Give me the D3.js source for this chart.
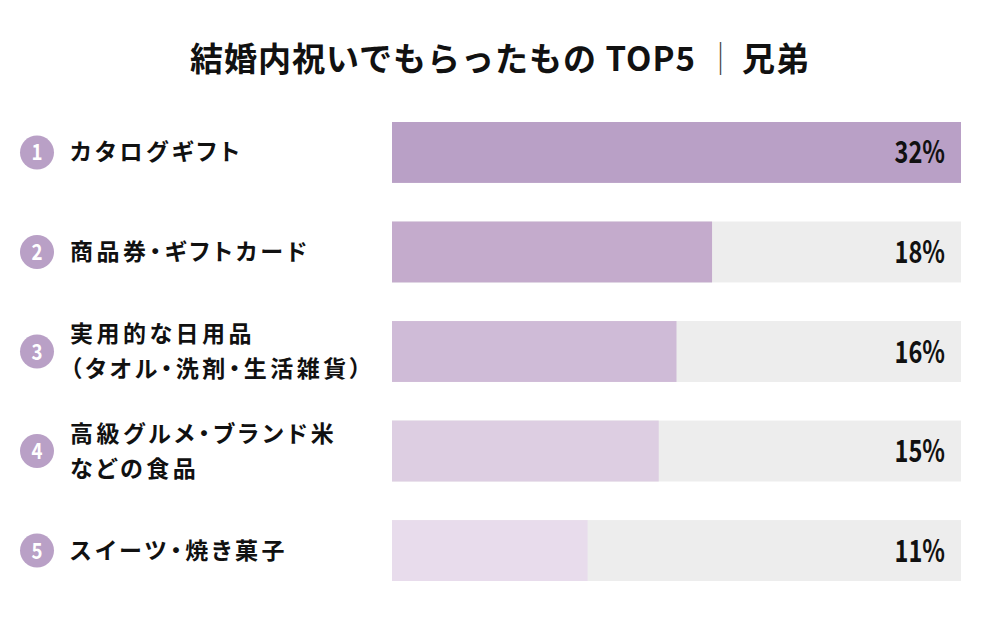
<!DOCTYPE html>
<html>
<head>
<meta charset="utf-8">
<script src="https://cdn.jsdelivr.net/npm/d3@7"></script>
<style>
  body { margin: 0; background: #fff; }
  text { font-family: "Noto Sans CJK JP", sans-serif; }
  .label { font-feature-settings: "palt"; }
</style>
</head>
<body>
<div id="chart"></div>
<script>
const title = "結婚内祝いでもらったもの TOP5";
const subTitle = "兄弟";
const ranks = ["1", "2", "3", "4", "5"];
const labels = [
  ["カタログギフト"],
  ["商品券・ギフトカード"],
  ["実用的な日用品", "（タオル・洗剤・生活雑貨）"],
  ["高級グルメ・ブランド米", "などの食品"],
  ["スイーツ・焼き菓子"]
];
const values = [32, 18, 16, 15, 11];
const barColors = ["#b9a0c6", "#c4abcc", "#cfbbd7", "#ddcee2", "#e8dcec"];

const width = 1000, height = 619;
const svg = d3.select("#chart").append("svg")
  .attr("width", width)
  .attr("height", height);

// title
const t = svg.append("text")
  .attr("x", 500)
  .attr("y", 71)
  .attr("text-anchor", "middle")
  .attr("font-size", 33)
  .attr("font-weight", 700)
  .attr("letter-spacing", 1)
  .attr("fill", "#111");
t.append("tspan").text(title);
t.append("tspan").attr("font-weight", 300).attr("fill", "#444").attr("dx", 8).text("｜");
t.append("tspan").attr("dx", 4).text(subTitle);

const x = d3.scaleLinear().domain([0, d3.max(values)]).range([392, 961]);
const y = d3.scaleBand().domain(ranks).range([122, 581]).paddingInner(0.388).paddingOuter(0);

const row = svg.selectAll(".row")
  .data(ranks)
  .enter()
  .append("g")
  .attr("class", "row");

// background track
row.append("rect")
  .attr("x", x(0))
  .attr("y", d => y(d))
  .attr("width", x.range()[1] - x(0))
  .attr("height", y.bandwidth())
  .attr("fill", "#ededed");

// value bar
row.append("rect")
  .attr("x", x(0))
  .attr("y", d => y(d))
  .attr("width", (d, i) => x(values[i]) - x(0))
  .attr("height", y.bandwidth())
  .attr("fill", (d, i) => barColors[i]);

// percent labels
row.append("text")
  .attr("transform", d => `translate(945, ${y(d) + y.bandwidth() / 2 + 11}) scale(0.76, 1)`)
  .attr("text-anchor", "end")
  .attr("font-family", "'DejaVu Sans Condensed', 'DejaVu Sans', sans-serif")
  .attr("font-weight", 700)
  .attr("font-size", 31)
  .attr("fill", "#111")
  .text((d, i) => values[i] + "%");

// rank circles
row.append("circle")
  .attr("cx", 37)
  .attr("cy", d => y(d) + y.bandwidth() / 2)
  .attr("r", 17)
  .attr("fill", "#b9a0c6");

row.append("text")
  .attr("transform", d => `translate(37, ${y(d) + y.bandwidth() / 2 + 8}) scale(0.85, 1)`)
  .attr("text-anchor", "middle")
  .attr("font-family", "'DejaVu Sans Condensed', 'DejaVu Sans', sans-serif")
  .attr("font-weight", 700)
  .attr("font-size", 22)
  .attr("fill", "#fff")
  .text(d => d);

// category labels
row.append("text")
  .attr("class", "label")
  .attr("font-size", 23)
  .attr("font-weight", 700)
  .attr("letter-spacing", 3.5)
  .attr("fill", "#111")
  .each(function (d, i) {
    const lines = labels[i];
    const mid = y(d) + y.bandwidth() / 2;
    const lh = 35;
    const top = mid - (lines.length - 1) * lh / 2 + 8;
    d3.select(this).selectAll("tspan")
      .data(lines)
      .enter()
      .append("tspan")
      .attr("x", 70)
      .attr("y", (l, j) => top + j * lh)
      .text(l => l);
  });
</script>
</body>
</html>
